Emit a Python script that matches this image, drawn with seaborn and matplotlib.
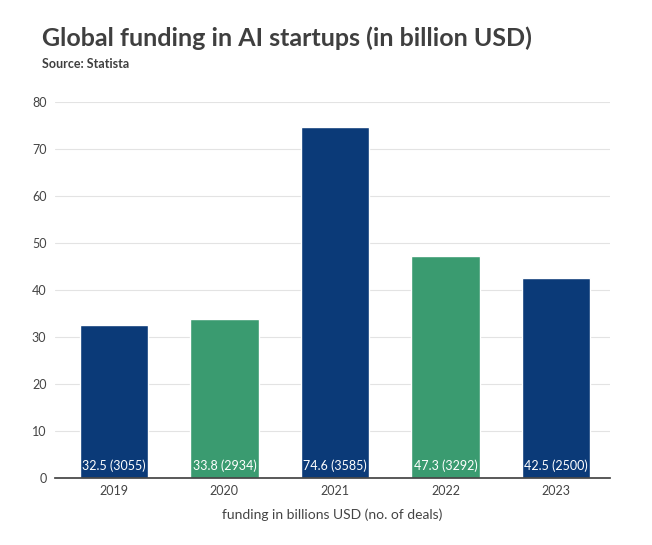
import matplotlib
matplotlib.use("Agg")
import matplotlib.pyplot as plt
import seaborn as sns
import pandas as pd

years = ["2019", "2020", "2021", "2022", "2023"]
funding = [32.5, 33.8, 74.6, 47.3, 42.5]
deals = [3055, 2934, 3585, 3292, 2500]
colors = ["#0b3a78", "#3a9b70", "#0b3a78", "#3a9b70", "#0b3a78"]

sns.set_theme(style="white")
plt.rcParams["font.family"] = ["Lato", "DejaVu Sans"]

df = pd.DataFrame({"year": years, "funding": funding})

fig = plt.figure(figsize=(6.52, 5.45), dpi=100)
ax = fig.add_axes([0.084, 0.123, 0.852, 0.690])

sns.barplot(data=df, x="year", y="funding", hue="year", palette=colors,
            legend=False, width=0.62, ax=ax, saturation=1)

for i, (f, d) in enumerate(zip(funding, deals)):
    ax.text(i, 1.2, f"{f} ({d})", color="white", ha="center", va="bottom", fontsize=9)

ax.set_ylim(0, 80)
ax.set_xlim(-0.534, 4.49)
ax.set_yticks(range(0, 81, 10))
ax.yaxis.grid(True, color="#e3e3e3", linewidth=0.8)
ax.set_axisbelow(True)
for s in ["top", "right", "left"]:
    ax.spines[s].set_visible(False)
ax.spines["bottom"].set_color("#444444")
ax.tick_params(axis="y", length=0, labelsize=9, colors="#444444", pad=6)
ax.tick_params(axis="x", length=0, labelsize=9, colors="#444444", pad=5)
ax.set_ylabel("")
ax.set_xlabel("funding in billions USD (no. of deals)", fontsize=10, color="#444444", labelpad=8)

fig.text(0.064, 0.93, "Global funding in AI startups (in billion USD)", fontsize=18,
         fontweight="bold", color="#3f3f3f", va="center")
fig.text(0.064, 0.883, "Source: Statista", fontsize=9, fontweight="bold",
         color="#3f3f3f", va="center")

fig.savefig("out.png", dpi=100, facecolor="white")
